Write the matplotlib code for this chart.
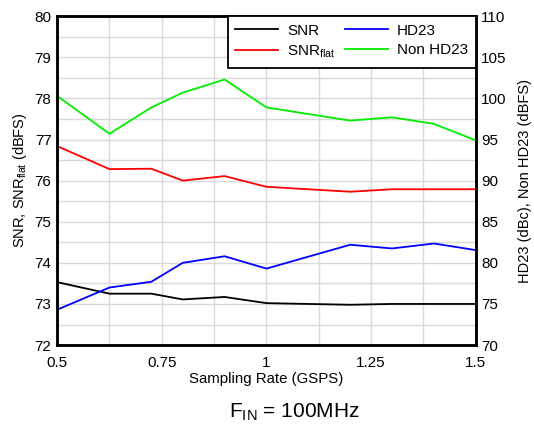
import numpy as np
from matplotlib import pyplot as plt

plt.rcParams['font.family'] = ['Liberation Sans', 'DejaVu Sans']

# Sampling rate (GSPS)
rate = [0.5, 0.625, 0.725, 0.8, 0.9, 1.0, 1.2, 1.3, 1.4, 1.5]
# left axis (dBFS)
snr = [73.53, 73.25, 73.25, 73.11, 73.17, 73.02, 72.98, 73.0, 73.0, 73.0]
snr_flat = [76.84, 76.28, 76.29, 76.0, 76.11, 75.85, 75.73, 75.79, 75.79, 75.79]
# right axis
hd23 = [74.3, 77.0, 77.7, 80.0, 80.8, 79.3, 82.2, 81.75, 82.35, 81.55]
non_hd23 = [100.3, 95.7, 98.9, 100.7, 102.3, 98.9, 97.3, 97.7, 96.9, 94.9]

fig = plt.figure(figsize=(5.34, 4.26), dpi=100)
ax = fig.add_axes([0.107, 0.19, 0.784, 0.772])
ax2 = ax.twinx()

l1, = ax.plot(rate, snr, color='black', lw=1.3, label='SNR')
l2, = ax.plot(rate, snr_flat, color='#ff0000', lw=1.3, label='SNR$_{\\mathregular{flat}}$')
l3, = ax2.plot(rate, hd23, color='#0000ff', lw=1.3, label='HD23')
l4, = ax2.plot(rate, non_hd23, color='#00ee00', lw=1.3, label='Non HD23')

ax.set_xlim(0.5, 1.5)
ax.set_ylim(72, 80)
ax2.set_ylim(70, 110)
ax.set_xticks([0.5, 0.75, 1, 1.25, 1.5])
ax.set_xticklabels(['0.5', '0.75', '1', '1.25', '1.5'])
ax.set_xticks(np.arange(0.5, 1.51, 0.125), minor=True)
ax.set_yticks(np.arange(72, 80.1, 1))
ax.set_yticks(np.arange(72, 80.1, 0.5), minor=True)
ax2.set_yticks(np.arange(70, 110.1, 5))

ax.grid(which='both', color='#d9d9d9', lw=1)
ax.set_axisbelow(True)
for a in (ax, ax2):
    a.tick_params(which='both', length=0, labelsize=11, pad=4)
    for s in a.spines.values():
        s.set_linewidth(1.8)
ax.tick_params(axis='x', pad=8)

ax.set_xlabel('Sampling Rate (GSPS)', fontsize=10.8, labelpad=1)
ax.set_ylabel('SNR, SNR$_{\\mathregular{flat}}$ (dBFS)', fontsize=10.5)
ax2.set_ylabel('HD23 (dBc), Non HD23 (dBFS)', fontsize=10.5, labelpad=8)

leg = ax2.legend(handles=[l1, l2, l3, l4], ncol=2, loc='upper right',
                 fontsize=11, frameon=True, fancybox=False,
                 borderaxespad=0, handlelength=2.8, columnspacing=0.6,
                 labelspacing=0.35, borderpad=0.5, handletextpad=0.6)
leg.get_frame().set_edgecolor('black')
leg.get_frame().set_linewidth(1.3)
leg.get_frame().set_alpha(1)

fig.text(0.552, 0.02, 'F$_{\\mathregular{IN}}$ = 100MHz', fontsize=15, ha='center')

fig.savefig('out.png', dpi=100)
